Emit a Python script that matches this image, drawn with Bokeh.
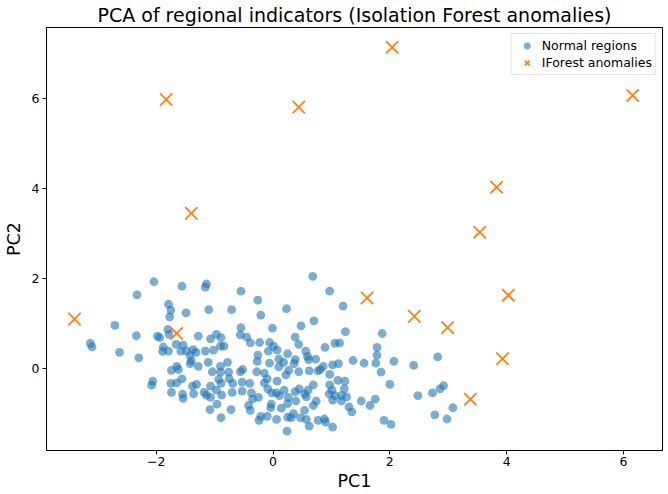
from bokeh.plotting import figure
from bokeh.models import FixedTicker, Range1d, Legend, LegendItem
from bokeh.embed import file_html
from bokeh.resources import INLINE

# ---- data ----
x_ticks = [-2, 0, 2, 4, 6]
y_ticks = [0, 2, 4, 6]

left_pc1 = [-3.13, -3.10, -2.71, -2.63, -2.34, -2.33, -2.30,
            -2.04, -1.56, -1.79, -1.75, -1.49, -1.77, -1.80, -1.14, -1.16, -1.10]
left_pc2 = [0.56, 0.48, 0.96, 0.36, 0.73, 1.64, 0.24,
            1.93, 1.83, 1.43, 1.30, 1.24, 1.15, 0.87, 1.88, 1.81, 1.31]

midleft_pc1 = [-1.98, -1.94, -1.78, -1.28, -0.97, -1.07, -0.89, -1.88, -1.89, -1.79,
               -1.66, -1.54, -1.58, -1.48, -1.37, -1.32, -1.42, -1.16, -1.02, -0.90,
               -1.40, -1.42, -1.28, -1.11, -1.74, -1.65, -1.62, -1.04, -0.90, -2.06,
               -2.08, -1.75, -1.65, -1.56, -1.74, -1.55, -1.54, -1.38, -1.31, -1.36,
               -1.18, -1.14, -1.07, -1.07, -0.93, -0.90, -0.97, -0.96, -1.08, -0.89, -0.88]
midleft_pc2 = [0.72, 0.69, 0.76, 0.72, 0.76, 0.66, 0.69, 0.48, 0.38, 0.39,
               0.54, 0.52, 0.39, 0.39, 0.42, 0.36, 0.29, 0.39, 0.41, 0.50,
               0.17, 0.11, 0.05, 0.14, -0.04, 0.05, -0.02, -0.07, 0.05, -0.28,
               -0.37, -0.33, -0.32, -0.23, -0.53, -0.57, -0.66, -0.39, -0.35, -0.56,
               -0.53, -0.59, -0.64, -0.39, -0.24, -0.08, -0.48, -0.79, -0.91, -1.09, -0.59]

center_pc1 = [-0.55, -0.26, -0.71, 0.23, -0.21, -0.55, -0.01,
              -0.56, -0.45, -0.39, -0.23, -0.06, -0.84, -0.26, -0.27, -0.08, -0.06,
              0.01, 0.07, 0.10, 0.10, 0.18, 0.25, -0.78, -0.76, -0.75, -0.52,
              -0.56, -0.28, -0.15, -0.15, -0.10, 0.07, 0.22, 0.27, -0.69, -0.89,
              -0.70, -0.53, -0.40, -0.53, -0.37, -0.35, -0.25, -0.09, -0.02, 0.06,
              0.19, 0.26, -0.72, -0.42, -0.39, -0.21, -0.10, -0.04, -0.03, 0.06,
              0.14, 0.25, 0.31, -0.24, 0.25, 0.11, 0.24]
center_pc2 = [1.72, 1.52, 1.31, 1.33, 1.19, 0.91, 0.90,
              0.75, 0.70, 0.57, 0.58, 0.58, 0.50, 0.30, 0.16, 0.39, 0.12,
              0.50, 0.41, 0.21, 0.04, 0.14, 0.33, 0.14, -0.08, -0.23, -0.02,
              -0.07, -0.07, -0.10, -0.32, -0.23, -0.28, -0.14, -0.04, -0.33, -0.33,
              -0.53, -0.30, -0.33, -0.50, -0.54, -0.68, -0.64, -0.45, -0.54, -0.54,
              -0.48, -0.64, -0.91, -0.82, -0.93, -1.06, -1.06, -0.87, -0.79, -1.13,
              -0.88, -1.08, -1.09, -1.15, -0.78, -0.60, -1.39]

midright_pc1 = [0.68, 0.97, 1.20, 0.70, 0.48,
                1.24, 0.38, 0.44, 0.56, 0.89, 1.06, 1.14, 1.37, 1.56, 1.12,
                1.02, 0.59, 0.61, 0.73, 0.86, 0.81, 0.77, 0.38, 0.36, 0.44,
                0.62, 0.97, 1.11, 1.23, 0.97, 1.01, 0.96, 1.06, 1.17, 1.22,
                1.26, 1.17, 1.02, 1.30, 1.35, 1.51, 0.69, 0.60, 0.54, 0.57,
                0.45, 0.38, 0.39, 0.74, 0.69, 0.54, 0.47, 0.57, 0.77, 0.88,
                0.90, 1.02, 0.35, 0.62]
midright_pc2 = [2.05, 1.72, 1.39, 1.06, 0.95,
                0.82, 0.70, 0.54, 0.39, 0.47, 0.56, 0.57, 0.18, 0.12, 0.11,
                0.08, 0.27, 0.20, 0.21, 0.05, -0.02, -0.05, 0.20, 0.11, -0.07,
                -0.05, -0.13, -0.26, -0.28, -0.36, -0.48, -0.56, -0.60, -0.60, -0.45,
                -0.63, -0.72, -0.70, -0.85, -0.96, -0.72, -0.36, -0.48, -0.56, -0.63,
                -0.45, -0.51, -0.72, -0.72, -0.82, -0.93, -1.09, -1.13, -1.15, -1.12,
                -1.19, -1.30, -1.00, -1.28]

right_pc1 = [1.87, 1.78, 1.78, 1.76, 2.07, 2.41, 2.82, 1.85, 2.00, 2.48,
             2.73, 2.86, 2.92, 1.75, 1.66, 1.90, 2.02, 2.77, 2.98, 3.08]
right_pc2 = [0.78, 0.47, 0.30, 0.12, 0.16, 0.07, 0.26, -0.08, -0.35, -0.60,
             -0.54, -0.45, -0.38, -0.68, -0.82, -1.15, -1.24, -1.03, -1.12, -0.87]

anom_pc1 = [-3.40, -1.83, -1.40, -1.65, 0.44, 2.04, 1.61, 2.42, 2.99, 3.54, 3.83, 4.03, 3.93, 3.38, 6.16]
anom_pc2 = [1.10, 5.98, 3.45, 0.78, 5.81, 7.14, 1.57, 1.16, 0.91, 3.03, 4.03, 1.63, 0.22, -0.68, 6.07]

normal_pc1 = left_pc1 + midleft_pc1 + center_pc1 + midright_pc1 + right_pc1
normal_pc2 = left_pc2 + midleft_pc2 + center_pc2 + midright_pc2 + right_pc2

FONT = "DejaVu Sans"

p = figure(width=668, height=494, output_backend="svg", toolbar_location=None,
           x_range=Range1d(-3.88, 6.67), y_range=Range1d(-1.82, 7.58),
           min_border_left=42, min_border_right=6, min_border_top=27, min_border_bottom=44)

p.title.text = "PCA of regional indicators (Isolation Forest anomalies)"
p.title.align = "center"
p.title.text_font = FONT
p.title.text_font_size = "19px"
p.title.text_font_style = "normal"
p.title.text_color = "#000000"
p.title.standoff = 3

p.xgrid.visible = False
p.ygrid.visible = False
p.outline_line_color = "#000000"
p.outline_line_width = 1
p.outline_line_alpha = 1

for ax in (p.xaxis[0], p.yaxis[0]):
    ax.minor_tick_line_color = None
    ax.major_tick_in = 0
    ax.major_tick_out = 4
    ax.major_tick_line_color = "#000000"
    ax.axis_line_color = "#000000"
    ax.major_label_text_font = FONT
    ax.major_label_text_font_size = "12.5px"
    ax.major_label_text_color = "#000000"
    ax.axis_label_text_font = FONT
    ax.axis_label_text_font_size = "17.5px"
    ax.axis_label_text_font_style = "normal"
    ax.axis_label_text_color = "#000000"

p.xaxis.ticker = FixedTicker(ticks=x_ticks)
p.yaxis.ticker = FixedTicker(ticks=y_ticks)
p.xaxis.major_label_overrides = {t: (str(t).replace("-", "\u2212")) for t in x_ticks}
p.yaxis.major_label_overrides = {t: (str(t).replace("-", "\u2212")) for t in y_ticks}
p.xaxis.axis_label = "PC1"
p.yaxis.axis_label = "PC2"
p.xaxis.major_label_standoff = 2
p.yaxis.major_label_standoff = 3
p.xaxis.axis_label_standoff = 2
p.yaxis.axis_label_standoff = 5

r1 = p.scatter(normal_pc1, normal_pc2, marker="circle", size=8.8,
               fill_color="#1f77b4", fill_alpha=0.6, line_color=None)
r2 = p.scatter(anom_pc1, anom_pc2, marker="x", size=17.5,
               line_color="#ff7f0e", line_width=1.8)

legend = Legend(items=[LegendItem(label="Normal regions", renderers=[r1]),
                       LegendItem(label="IForest anomalies", renderers=[r2])],
                location="top_right")
legend.label_text_font = FONT
legend.label_text_font_size = "12.5px"
legend.label_text_color = "#000000"
legend.border_line_color = "#cccccc"
legend.border_line_width = 1
legend.background_fill_alpha = 0.8
legend.margin = 6
legend.padding = 3
legend.spacing = 0
legend.label_height = 14
legend.glyph_height = 17
legend.glyph_width = 24
legend.label_standoff = 3
p.add_layout(legend)

open("out.html", "w").write(file_html(p, INLINE))
